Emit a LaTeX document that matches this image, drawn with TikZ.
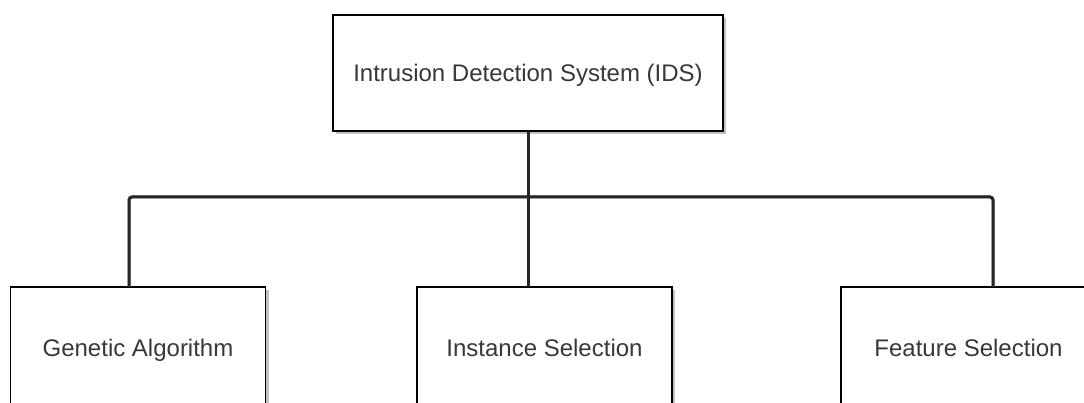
\documentclass[tikz,border=0pt]{standalone}
\usepackage{fontspec}
\setmainfont{Liberation Sans}
\usetikzlibrary{shadows}
\begin{document}
\begin{tikzpicture}[x=1pt,y=-1pt,
  box/.style={draw=black, line width=1.7pt, fill=white, text=black!78,
    font=\fontsize{24}{28}\selectfont, inner sep=0pt, outer sep=0pt,
    text height=17.2pt, text depth=0pt,
    drop shadow={shadow xshift=3pt, shadow yshift=-3pt, opacity=0.4, fill=black!60}},
  conn/.style={draw=black!85, line width=3pt, rounded corners=3pt},
  connshadow/.style={draw=black!35, line width=3pt, rounded corners=3pt}]
\useasboundingbox (0,0) rectangle (1084,403);
\clip (0,0) rectangle (1084,403);
\node[box, minimum width=390pt, minimum height=116pt] (top) at (528,73) {Intrusion Detection System (IDS)};
\node[box, minimum width=255pt, minimum height=121pt] (ga) at (138,347.5) {Genetic Algorithm};
\node[box, minimum width=255pt, minimum height=121pt] (is) at (544.5,347.5) {Instance Selection};
\node[box, minimum width=255pt, minimum height=121pt] (fs) at (968.5,347.5) {Feature Selection};
\coordinate (jL) at (129,197);
\coordinate (jR) at (993,197);
% shadows of connectors
\begin{scope}[shift={(2.5,2.5)}]
\draw[connshadow] (ga.north -| jL) -- (jL) -- (jR) -- (fs.north -| jR);
\draw[connshadow] (top.south) -- (is.north -| top.south);
\end{scope}
\draw[conn] (ga.north -| jL) -- (jL) -- (jR) -- (fs.north -| jR);
\draw[conn] (top.south) -- (is.north -| top.south);
\end{tikzpicture}
\end{document}
